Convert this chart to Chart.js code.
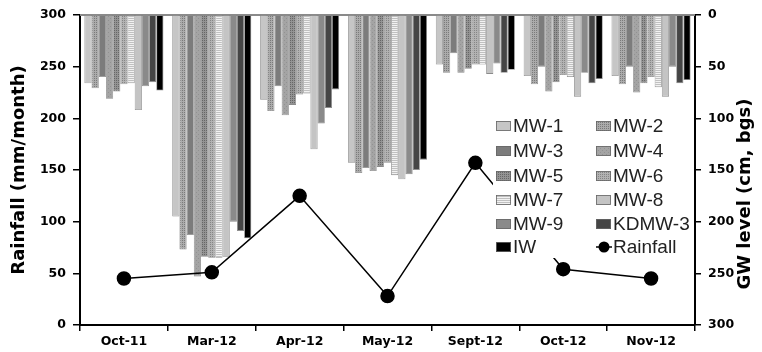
<!DOCTYPE html>
<html>
<head>
<meta charset="utf-8">
<script src="https://cdn.jsdelivr.net/npm/chart.js@4.4.1/dist/chart.umd.min.js"></script>
<style>
  html, body { margin: 0; padding: 0; background: #fff; }
  #wrap { width: 762px; height: 352px; }
</style>
</head>
<body>
<div id="wrap"><canvas id="grafico" width="762" height="352"></canvas></div>
<script>
// dados
var meses = ['Oct-11', 'Mar-12', 'Apr-12', 'May-12', 'Sept-12', 'Oct-12', 'Nov-12'];
var chuva = [45, 51, 125, 28, 157, 54, 45];

var mw1    = [66, 195, 82, 143, 48, 59, 59];
var mw2    = [71, 227, 93, 153, 56, 67, 67];
var mw3    = [60, 213, 69, 148, 37, 50, 50];
var mw4    = [81, 253, 97, 151, 56, 74, 75];
var mw5    = [74, 234, 87, 147, 52, 65, 66];
var mw6    = [67, 235, 77, 143, 48, 58, 60];
var mw7    = [66, 235, 76, 155, 48, 60, 70];
var mw8    = [92, 234, 130, 159, 57, 79, 79];
var mw9    = [69, 200, 105, 154, 47, 56, 50];
var kdmw3  = [65, 209, 90, 150, 56, 66, 66];
var iw     = [73, 216, 72, 140, 53, 62, 63];

var ticksY = [0, 50, 100, 150, 200, 250, 300];

// padroes de preenchimento
function padrao(fundo, cor, tipo){
	var c = document.createElement('canvas');
	c.width = 4; c.height = 4;
	var g = c.getContext('2d');
	g.fillStyle = fundo;
	g.fillRect(0, 0, 4, 4);
	g.fillStyle = cor;
	if (tipo === 'pontos') {
		g.fillRect(0, 0, 1, 1); g.fillRect(2, 2, 1, 1);
	} else if (tipo === 'xadrez') {
		g.fillRect(0, 0, 1, 1); g.fillRect(2, 2, 1, 1);
		g.fillRect(2, 0, 1, 1); g.fillRect(0, 2, 1, 1);
	} else if (tipo === 'listras') {
		g.fillRect(0, 0, 4, 1); g.fillRect(0, 2, 4, 1);
	}
	return g.createPattern(c, 'repeat');
}

var cores = [
	'#c6c6c6',
	padrao('#ababab', '#7a7a7a', 'xadrez'),
	'#7c7c7c',
	padrao('#a4a4a4', '#929292', 'pontos'),
	padrao('#939393', '#666666', 'xadrez'),
	padrao('#b2b2b2', '#858585', 'xadrez'),
	padrao('#f2f2f2', '#c0c0c0', 'listras'),
	'#c4c4c4',
	'#8a8a8a',
	'#454545',
	'#000000'
];
var nomes = ['MW-1', 'MW-2', 'MW-3', 'MW-4', 'MW-5', 'MW-6', 'MW-7', 'MW-8', 'MW-9', 'KDMW-3', 'IW'];
var series = [mw1, mw2, mw3, mw4, mw5, mw6, mw7, mw8, mw9, kdmw3, iw];

var datasets = [];
datasets.push({
	type: 'line',
	label: 'Rainfall',
	data: chuva,
	yAxisID: 'y',
	borderColor: '#000',
	borderWidth: 1.5,
	pointRadius: 6.5,
	pointBackgroundColor: '#000',
	pointBorderColor: '#000',
	tension: 0,
	order: 0
});
for (var i = 0; i < series.length; i++) {
	datasets.push({
		type: 'bar',
		label: nomes[i],
		data: series[i],
		yAxisID: 'y1',
		backgroundColor: cores[i],
		borderColor: 'rgba(90,90,90,0.7)',
		borderWidth: 0.8,
		categoryPercentage: 0.9,
		barPercentage: 1.0,
		order: 1
	});
}

var fonteEixo = { family: 'DejaVu Sans', weight: 'bold', size: 12.5 };

// linha do topo, legenda e titulo da direita
var extras = {
	id: 'extras',
	beforeDatasetsDraw: function(chart){
		var ctx = chart.ctx, a = chart.chartArea;
		ctx.save();
		ctx.strokeStyle = '#8a8a8a';
		ctx.lineWidth = 2;
		ctx.beginPath();
		ctx.moveTo(a.left, a.top);
		ctx.lineTo(a.right, a.top);
		ctx.stroke();
		ctx.restore();
	},
	afterDatasetsDraw: function(chart){
		var ctx = chart.ctx;
		ctx.save();
		ctx.fillStyle = '#fff';
		ctx.fillRect(493, 112, 196, 146);
		ctx.font = '19px "Liberation Sans", Arial, sans-serif';
		ctx.textBaseline = 'middle';
		var linhas = [126, 151, 176, 200, 224, 247];
		var colunas = [496, 596];
		for (var k = 0; k < 12; k++) {
			var x = colunas[k % 2], y = linhas[Math.floor(k / 2)];
			if (k < 11) {
				ctx.fillStyle = cores[k];
				ctx.fillRect(x, y - 5, 15, 10);
				ctx.strokeStyle = '#666';
				ctx.lineWidth = 0.8;
				ctx.strokeRect(x + 0.5, y - 4.5, 14, 9);
				ctx.fillStyle = '#222';
				ctx.fillText(nomes[k], x + 17, y + 1);
			} else {
				ctx.strokeStyle = '#000';
				ctx.lineWidth = 1.5;
				ctx.beginPath();
				ctx.moveTo(x, y); ctx.lineTo(x + 16, y);
				ctx.stroke();
				ctx.fillStyle = '#000';
				ctx.beginPath();
				ctx.arc(x + 8, y, 5.5, 0, Math.PI * 2);
				ctx.fill();
				ctx.fillStyle = '#222';
				ctx.fillText('Rainfall', x + 17, y + 1);
			}
		}
		ctx.restore();
	},
	afterDraw: function(chart){
		var ctx = chart.ctx, a = chart.chartArea;
		ctx.save();
		ctx.translate(745, (a.top + a.bottom) / 2 + 24);
		ctx.rotate(-Math.PI / 2);
		ctx.font = 'bold 18px "DejaVu Sans"';
		ctx.fillStyle = '#000';
		ctx.textAlign = 'center';
		ctx.textBaseline = 'middle';
		ctx.fillText('GW level (cm, bgs)', 0, 0);
		ctx.restore();
	}
};

var grafico = new Chart(document.getElementById('grafico'), {
	type: 'bar',
	data: { labels: meses, datasets: datasets },
	options: {
		responsive: false,
		animation: false,
		layout: { padding: { top: 15, left: 0, right: 0, bottom: 0 } },
		plugins: {
			legend: { display: false },
			tooltip: { enabled: false }
		},
		scales: {
			x: {
				grid: { offset: true, drawOnChartArea: false, color: '#000', lineWidth: 1.5, tickLength: 6 },
				border: { color: '#000', width: 2 },
				ticks: { color: '#000', font: fonteEixo, padding: 3, maxRotation: 0 },
				afterFit: function(s){ s.height = 27; }
			},
			y: {
				position: 'left',
				min: 0, max: 300,
				afterBuildTicks: function(s){ s.ticks = ticksY.map(function(v){ return { value: v }; }); },
				grid: { drawOnChartArea: false, color: '#000', lineWidth: 1.5, tickLength: 7 },
				border: { color: '#000', width: 2 },
				ticks: { color: '#000', font: fonteEixo, padding: 7 },
				title: { display: true, text: 'Rainfall (mm/month)', color: '#000', font: { family: 'DejaVu Sans', weight: 'bold', size: 18 }, padding: { top: 9, bottom: 0 } },
				afterFit: function(s){ s.width = 80; }
			},
			y1: {
				position: 'right',
				reverse: true,
				min: 0, max: 300,
				afterBuildTicks: function(s){ s.ticks = ticksY.map(function(v){ return { value: v }; }); },
				grid: { drawOnChartArea: false, color: '#000', lineWidth: 1.5, tickLength: 6 },
				border: { color: '#000', width: 2 },
				ticks: { color: '#000', font: fonteEixo, padding: 7 },
				afterFit: function(s){ s.width = 67; }
			}
		}
	},
	plugins: [extras]
});
</script>
</body>
</html>
